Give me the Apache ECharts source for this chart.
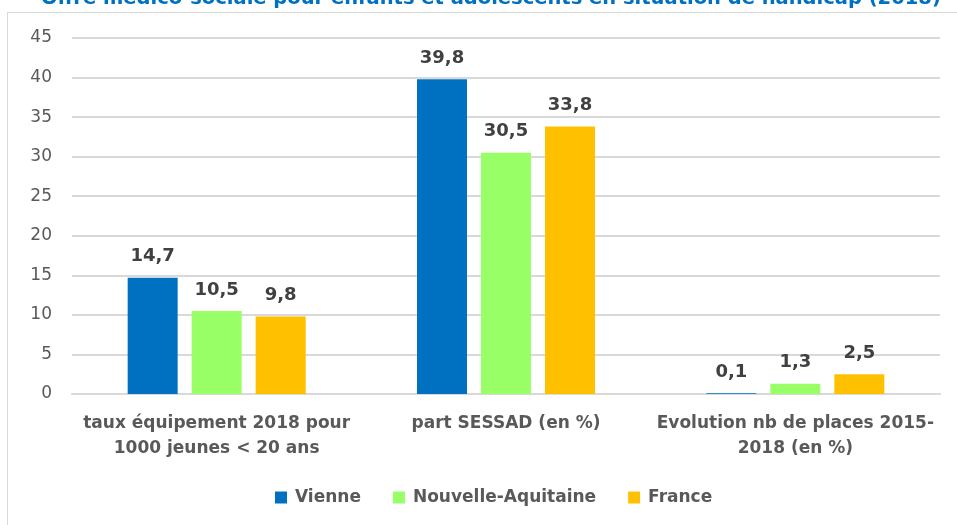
<!DOCTYPE html>
<html>
<head>
<meta charset="utf-8">
<script src="https://cdn.jsdelivr.net/npm/echarts@6/dist/echarts.min.js"></script>
<style>
html,body{margin:0;padding:0;background:#fff;overflow:hidden;}
#frame{position:absolute;left:7px;top:12px;width:960px;height:520px;border:1px solid #d9d9d9;}
#chart{position:absolute;left:0;top:0;width:957px;height:525px;}
</style>
</head>
<body>
<div id="frame"></div>
<div id="chart"></div>
<script>
var categories = ['taux équipement 2018 pour\n1000 jeunes < 20 ans', 'part SESSAD (en %)', 'Evolution nb de places 2015-\n2018 (en %)'];
var vienne = [14.7, 39.8, 0.1];
var nouvelleAquitaine = [10.5, 30.5, 1.3];
var france = [9.8, 33.8, 2.5];
var seriesNames = ['Vienne', 'Nouvelle-Aquitaine', 'France'];
var colors = ['#0070c0', '#99ff66', '#ffc000'];

var chart = echarts.init(document.getElementById('chart'));
var font = 'DejaVu Sans';
function lbl(p){ return String(p.value).replace('.', ','); }
function makeSeries(name, data, color){
	return {
		name: name,
		type: 'bar',
		data: data,
		barWidth: 50,
		barGap: '28%',
		itemStyle: { color: color },
		label: {
			show: true,
			position: 'top',
			distance: 12,
			formatter: lbl,
			color: '#404040',
			fontFamily: font,
			fontWeight: 'bold',
			fontSize: 18
		}
	};
}
var option = {
	title: {
		text: 'Offre médico-sociale pour enfants et adolescents en situation de handicap (2018)',
		left: 36,
		top: -16,
		textStyle: { color: '#0070c0', fontFamily: font, fontWeight: 'bold', fontSize: 19.5 }
	},
	legend: {
		data: seriesNames,
		bottom: 14,
		left: 270,
		icon: 'rect',
		itemWidth: 12,
		itemHeight: 12,
		itemGap: 32,
		textStyle: { color: '#595959', fontFamily: font, fontWeight: 'bold', fontSize: 17, padding: [0, 0, 0, 3] }
	},
	grid: { left: 72, right: 17, top: 38, bottom: 131 },
	xAxis: {
		type: 'category',
		data: categories,
		axisLine: { lineStyle: { color: '#d9d9d9', width: 2 } },
		axisTick: { show: false },
		axisLabel: {
			interval: 0,
			margin: 17,
			lineHeight: 25,
			color: '#595959',
			fontFamily: font,
			fontWeight: 'bold',
			fontSize: 17
		}
	},
	yAxis: {
		type: 'value',
		min: 0,
		max: 45,
		interval: 5,
		axisLine: { show: false },
		axisTick: { show: false },
		splitLine: { lineStyle: { color: '#d9d9d9', width: 2 } },
		axisLabel: { margin: 20, color: '#595959', fontFamily: font, fontSize: 17 }
	},
	series: [
		makeSeries(seriesNames[0], vienne, colors[0]),
		makeSeries(seriesNames[1], nouvelleAquitaine, colors[1]),
		makeSeries(seriesNames[2], france, colors[2])
	]
};
chart.setOption(option);
</script>
</body>
</html>
